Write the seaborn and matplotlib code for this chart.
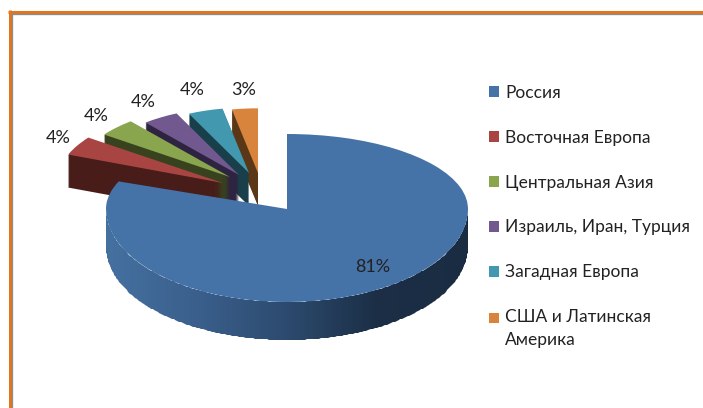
import numpy as np
import matplotlib
matplotlib.use("Agg")
import matplotlib.pyplot as plt
from matplotlib.colors import LinearSegmentedColormap
from matplotlib.lines import Line2D
from matplotlib.patches import PathPatch, Patch, Wedge
from matplotlib.path import Path
import seaborn as sns

categories = ["Россия", "Восточная Европа", "Центральная Азия",
              "Израиль, Иран, Турция", "Загадная Европа", "США и Латинская\nАмерика"]
shares = [81, 4, 4, 4, 4, 3]

sns.set_theme(style="white")
plt.rcParams["font.family"] = ["Lato", "DejaVu Sans"]

W, H = 703, 408
top_colors = sns.color_palette(["#4572A7", "#A84543", "#89A54E", "#71588F", "#4198AF", "#D8843D"])
wall_colors = ["#2C4A6E", "#481C19", "#39421F", "#2E2340", "#193F4B", "#5A3817"]

fig = plt.figure(figsize=(W / 100, H / 100), dpi=100, facecolor="white")

# ---- back axes: the exploded slices (1 unit = 181 px across, 84 px down)
CX, CY, RX, RY = 287, 215, 181, 84
ax = fig.add_axes([0, 0, 1, 1])
wedges, _ = ax.pie(shares, startangle=90, counterclock=False, colors=top_colors,
                   wedgeprops={"linewidth": 0, "edgecolor": "none"})
ax.set_aspect("auto")
ax.set_xlim(-CX / RX, (W - CX) / RX)
ax.set_ylim((CY - H) / RY, CY / RY)
ax.set_axis_off()
legend_handles = [Patch(color=w.get_facecolor(), linewidth=0) for w in wedges]

apex_px = {1: (223, 183), 2: (230, 177), 3: (239, 175), 4: (249, 173), 5: (258, 173)}
radii = {1: 0.92, 2: 0.86, 3: 0.81, 4: 0.78, 5: 0.77}
WALL_PX = 33
for w in wedges:
    w.set_visible(False)
for i in [5, 4, 3, 2, 1]:
    w = wedges[i]
    px, py = apex_px[i]
    cx, cy = (px - CX) / RX, (CY - py) / RY
    for d in np.arange(WALL_PX, 0, -1.0):
        ax.add_patch(Wedge((cx, cy - d / RY), radii[i], w.theta1, w.theta2, linewidth=0,
                           facecolor=wall_colors[i], edgecolor="none", zorder=2 + (5 - i) * 2))
    ax.add_patch(Wedge((cx, cy), radii[i], w.theta1, w.theta2, linewidth=0,
                       facecolor=top_colors[i], edgecolor="none", zorder=3 + (5 - i) * 2))

# ---- front axes: the big slice, viewed in perspective (75 px up, 93 px down per unit)
AX, AY, UP, DOWN = 287, 209, 75.0, 93.0
axm = fig.add_axes([0, 0, 1, 1])
axm.patch.set_visible(False)
main_wedges, _ = axm.pie(shares, startangle=90, counterclock=False, colors=top_colors,
                         wedgeprops={"linewidth": 0, "edgecolor": "none"})
for w in main_wedges[1:]:
    w.set_visible(False)
axm.set_aspect("auto")
axm.set_yscale("function", functions=(
    lambda y: np.where(np.asarray(y) > 0, np.asarray(y) * UP, np.asarray(y) * DOWN),
    lambda v: np.where(np.asarray(v) > 0, np.asarray(v) / UP, np.asarray(v) / DOWN)))
axm.set_xlim(-AX / RX, (W - AX) / RX)
axm.set_ylim((AY - H) / DOWN, AY / UP)
axm.set_axis_off()
main_wedges[0].set_zorder(5)

# side wall of the big slice with its left-to-right shading
t = np.linspace(np.pi, 2 * np.pi, 240)
drop = 38 / DOWN
outline = np.column_stack([np.r_[np.cos(t), np.cos(t[::-1])],
                           np.r_[np.sin(t), np.sin(t[::-1]) - drop]])
wall = PathPatch(Path(outline), facecolor="none", edgecolor="none", transform=axm.transData)
axm.add_patch(wall)
shade = LinearSegmentedColormap.from_list("wall", ["#44709F", "#3A5F8C", "#2C4A6E", "#1B2E45", "#1A2C42"])
gx = np.linspace(-1, 1, 200)
gy = np.array([-1.6, 0.0])
mesh = axm.pcolormesh(gx, gy, np.tile(gx[:-1], (1, 1)), cmap=shade, shading="flat", zorder=3)
mesh.set_clip_path(wall)

# ---- value labels
label_px = [(373, 267), (58, 138), (96, 116), (143, 102), (192, 90), (244, 90)]
for v, (lx, ly) in zip(shares, label_px):
    fig.text(lx / W, 1 - ly / H, f"{v}%", ha="center", va="center", fontsize=13, color="#222222")

# ---- legend
leg = fig.legend(legend_handles, categories, loc="upper left", bbox_to_anchor=(489 / W, 1 - 85 / H),
                 frameon=False, fontsize=12.5, labelspacing=1.66, handlelength=0.58, handleheight=0.58,
                 handletextpad=0.35, borderpad=0, borderaxespad=0, labelcolor="#222222")
leg.get_texts()[-1].set_linespacing(1.55)
last = leg.legend_handles[-1]
last.set_y(last.get_y() + 8.0)

# ---- frame
for xs, ys, c, lw in [((9.5, 9.5), (10, H), "#E3761C", 3.0), ((8, W), (11.5, 11.5), "#E3761C", 3.0),
                      ((11.7, 11.7), (13, H), "#8C8C8C", 1.3), ((11, W), (13.7, 13.7), "#8C8C8C", 1.3)]:
    fig.add_artist(Line2D([x / W for x in xs], [1 - y / H for y in ys], color=c, lw=lw * 0.72,
                          transform=fig.transFigure, solid_capstyle="butt"))

fig.savefig("out.png", dpi=100, facecolor="white")
